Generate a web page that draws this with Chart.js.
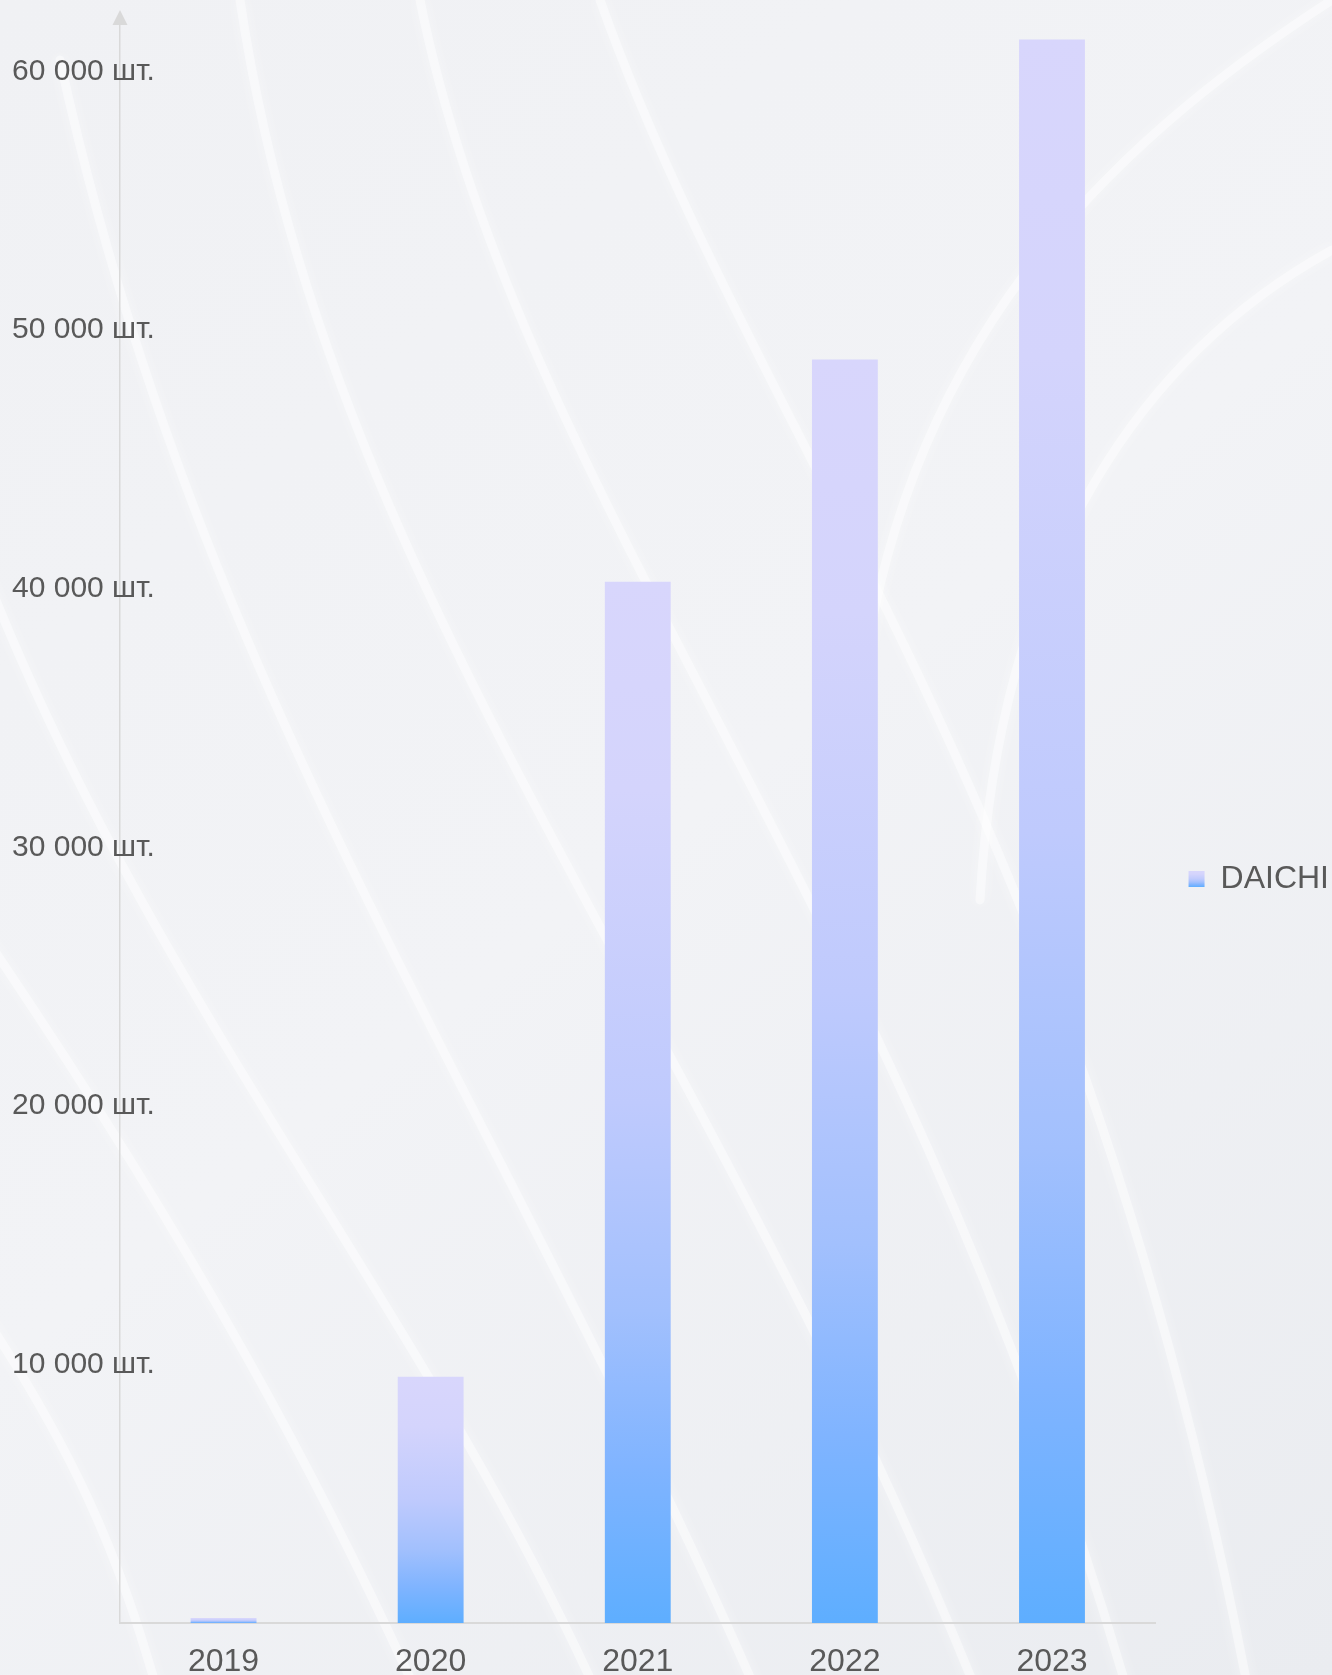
<!DOCTYPE html>
<html>
<head>
<meta charset="utf-8">
<script src="https://cdn.jsdelivr.net/npm/chart.js@4.4.1/dist/chart.umd.min.js"></script>
<style>
  html, body { margin: 0; padding: 0; background: #eef0f4; overflow: hidden; }
  #c { display: block; }
</style>
</head>
<body>
<canvas id="c" width="1332" height="1675"></canvas>
<script>
// ---- data ----
const categories = ['2019', '2020', '2021', '2022', '2023'];
const seriesName = 'DAICHI';
const seriesValues = [190, 9520, 40270, 48860, 61240];
const yTickValues = [10000, 20000, 30000, 40000, 50000, 60000];
const yTickLabels = ['10 000 шт.', '20 000 шт.', '30 000 шт.', '40 000 шт.', '50 000 шт.', '60 000 шт.'];
const yMax = 61800;

// ---- styles ----
const FONT = '"Liberation Sans", Arial, sans-serif';
const TEXT = '#595959';
const AXIS = '#d9d9d9';
const gradStops = [
  [0, '#d8d6fc'], [0.2, '#d4d4fc'], [0.5, '#bfcafd'],
  [0.7, '#a2c0fd'], [0.85, '#80b4ff'], [1, '#5eaeff']
];
function makeGrad(c, y0, y1) {
  const g = c.createLinearGradient(0, y0, 0, y1);
  gradStops.forEach(s => g.addColorStop(s[0], s[1]));
  return g;
}

const bgPlugin = {
  id: 'bg',
  beforeDraw(chart) {
    const c = chart.ctx, w = chart.width, h = chart.height;
    c.save();
    const bg = c.createLinearGradient(0, 0, w, h);
    bg.addColorStop(0, '#f0f1f4');
    bg.addColorStop(0.5, '#f2f3f6');
    bg.addColorStop(1, '#eaecf0');
    c.fillStyle = bg;
    c.fillRect(0, 0, w, h);
    c.lineCap = 'round';
    const curves = [
      [[-40, 900], [200, 1250], [330, 1500], [420, 1700]],
      [[-20, 560], [150, 1000], [420, 1300], [600, 1700]],
      [[60, 60], [200, 700], [500, 1100], [760, 1700]],
      [[240, 0], [330, 600], [700, 1000], [980, 1700]],
      [[420, 0], [520, 500], [900, 900], [1130, 1700]],
      [[600, 0], [760, 450], [1080, 800], [1250, 1700]],
      [[-60, 1250], [80, 1450], [120, 1560], [160, 1700]],
      [[1332, 0], [1100, 150], [900, 350], [860, 700]],
      [[1332, 250], [1150, 350], [1000, 550], [980, 900]]
    ];
    curves.forEach((p) => {
      c.beginPath();
      c.moveTo(p[0][0], p[0][1]);
      c.bezierCurveTo(p[1][0], p[1][1], p[2][0], p[2][1], p[3][0], p[3][1]);
      c.strokeStyle = 'rgba(255,255,255,0.45)';
      c.lineWidth = 9;
      c.shadowColor = 'rgba(255,255,255,1)';
      c.shadowBlur = 14;
      c.stroke();
    });
    c.restore();
    // legend swatch gradient at its laid-out position
    const lg = chart.legend;
    if (lg && lg.legendHitBoxes && lg.legendHitBoxes[0] && lg.legendItems && lg.legendItems[0]) {
      const hb = lg.legendHitBoxes[0];
      const cy = hb.top + hb.height / 2;
      lg.legendItems[0].fillStyle = makeGrad(chart.ctx, cy - 8, cy + 8);
    }
  },
  afterDraw(chart) {
    const c = chart.ctx, y = chart.scales.y;
    const x = y.right;
    const top = chart.chartArea.top;
    c.save();
    c.fillStyle = AXIS;
    c.beginPath();
    c.moveTo(x, top - 15);
    c.lineTo(x - 7.5, top);
    c.lineTo(x + 7.5, top);
    c.closePath();
    c.fill();
    c.restore();
  }
};

new Chart(document.getElementById('c'), {
  type: 'bar',
  data: {
    labels: categories,
    datasets: [{
      label: seriesName,
      data: seriesValues,
      backgroundColor: (ctx) => {
        const chart = ctx.chart;
        if (!chart.chartArea || ctx.type !== 'data') return '#a9c3fd';
        const ys = chart.scales.y;
        const top = ys.getPixelForValue(ctx.raw);
        const bot = ys.getPixelForValue(0);
        if (!isFinite(top) || !isFinite(bot) || bot - top < 1) return '#c6cffd';
        return makeGrad(chart.ctx, top, bot);
      },
      borderWidth: 0,
      barPercentage: 0.318,
      categoryPercentage: 1
    }]
  },
  options: {
    responsive: false,
    animation: false,
    devicePixelRatio: 1,
    layout: { padding: { left: 12, top: 25, right: -7, bottom: 0 } },
    plugins: {
      tooltip: { enabled: false },
      legend: {
        position: 'right',
        align: 'center',
        title: { display: true, text: ' ', font: { size: 10 }, padding: { top: 0, bottom: 46 } },
        labels: {
          color: TEXT,
          font: { family: FONT, size: 32 },
          boxWidth: 16,
          boxHeight: 16,
          padding: 33
        }
      }
    },
    scales: {
      x: {
        grid: { display: false, drawTicks: false },
        border: { display: true, color: AXIS, width: 2 },
        ticks: { color: TEXT, font: { family: FONT, size: 32 }, padding: 20, maxRotation: 0 },
        afterFit: (s) => { s.height = 52; }
      },
      y: {
        min: 0,
        max: yMax,
        grid: { display: false, drawTicks: false },
        border: { display: true, color: AXIS, width: 1.5 },
        afterBuildTicks: (s) => { s.ticks = yTickValues.map(v => ({ value: v })); },
        afterFit: (s) => { s.width = 108; },
        ticks: {
          color: TEXT,
          font: { family: FONT, size: 30 },
          mirror: true,
          crossAlign: 'near',
          padding: -108,
          callback: (v, i) => yTickLabels[i]
        }
      }
    }
  },
  plugins: [bgPlugin]
});
</script>
</body>
</html>
